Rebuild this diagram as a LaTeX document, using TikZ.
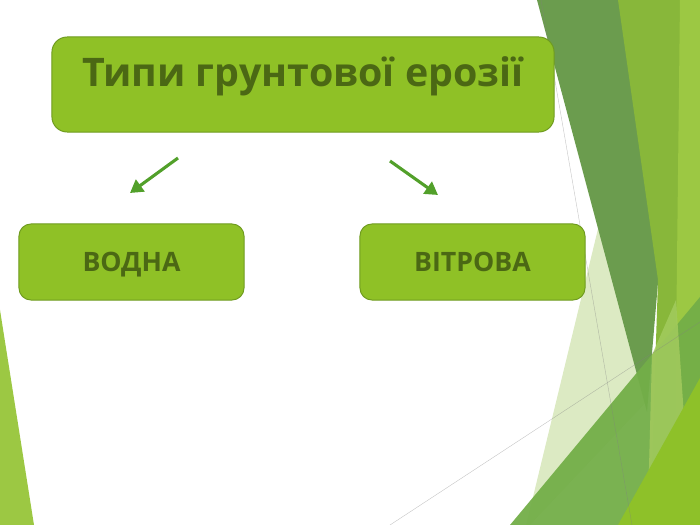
\documentclass[tikz,border=0pt]{standalone}
\usepackage{fontspec}
\setmainfont{Open Sans}
\usetikzlibrary{arrows.meta}
\definecolor{boxgreen}{HTML}{8FC126}
\definecolor{boxedge}{HTML}{6F9B1F}
\definecolor{textolive}{HTML}{4B6814}
\definecolor{arrowgreen}{HTML}{52A02A}
\definecolor{facetpale}{HTML}{DCEAC3}
\definecolor{facetdark}{HTML}{6B9C4E}
\definecolor{facetolive}{HTML}{88B73A}
\definecolor{facetlight}{HTML}{9CC843}
\definecolor{facetsoft}{HTML}{A3CB5E}
\definecolor{facetmid}{HTML}{73AE48}
\definecolor{facetlime}{HTML}{8EC129}
\tikzset{
  erobox/.style={draw=boxedge, fill=boxgreen, line width=0.7pt, rounded corners=0.3cm,
    font=\bfseries\fontsize{19}{22}\selectfont, text=textolive,
    minimum width=5.625cm, minimum height=1.9cm, text depth=0pt},
  eroarrow/.style={arrowgreen, line width=2.2pt, -{Triangle[length=0.32cm,width=0.36cm]}},
  thinline/.style={gray, line width=0.3pt, opacity=0.45}
}
\begin{document}
\begin{tikzpicture}[x=0.025cm, y=-0.025cm]
\useasboundingbox (0,0) rectangle (700,525);
% Facets on the left and right edges
\begin{scope}
\fill[facetlight] (0,310) -- (34,525) -- (0,525) -- cycle;
\fill[facetpale] (605,200) -- (525,530) -- (648,400) -- cycle;
\fill[facetdark] (537,0) -- (682,0) -- (647,412) -- cycle;
\fill[facetolive] (618,0) -- (700,0) -- (700,525) -- (650,525) -- (658,280) -- cycle;
\fill[facetlight] (680,0) -- (700,0) -- (700,525) -- (674,525) -- cycle;
\fill[facetmid, opacity=0.95] (510,525) -- (700,297) -- (700,525) -- cycle;
\fill[facetsoft, opacity=0.85] (652,355) -- (676,300) -- (686,445) -- (648,505) -- cycle;
\fill[facetlime] (618,525) -- (700,378) -- (700,525) -- cycle;
\draw[thinline] (541,0) -- (632,525);
\draw[thinline] (390,525) -- (700,322);
\end{scope}

% Title and the two kinds
\node[erobox, minimum width=12.55cm, minimum height=2.375cm, rounded corners=0.38cm,
  font=\bfseries\fontsize{28}{32}\selectfont, text height=0.725cm, text depth=0.6cm]
  (title) at (303,84.5) {Типи грунтової ерозії};
\node[erobox] (water) at (131.5,262) {ВОДНА};
\node[erobox] (wind) at (472.5,262) {ВІТРОВА};

% Arrows
\coordinate (waterfrom) at (178,158);
\coordinate (waterto) at (130,193);
\coordinate (windfrom) at (390,161);
\coordinate (windto) at (438,195);
\draw[eroarrow] (waterfrom) -- (waterto);
\draw[eroarrow] (windfrom) -- (windto);
\end{tikzpicture}
\end{document}
